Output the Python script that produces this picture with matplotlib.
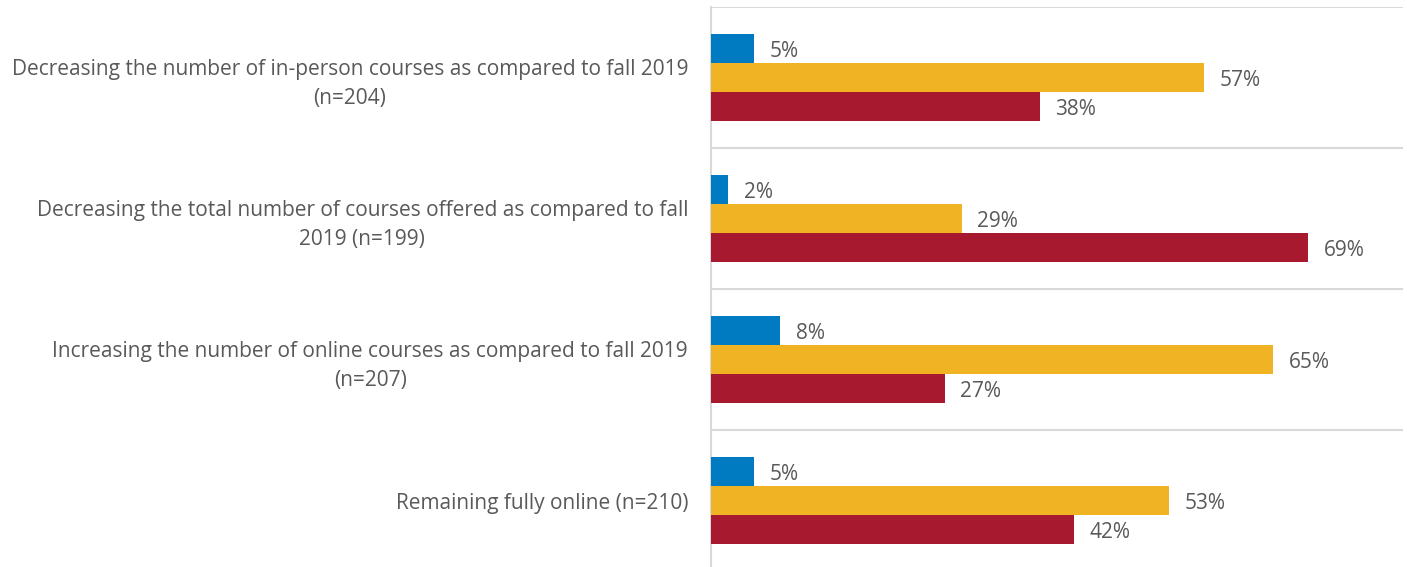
import numpy as np
import matplotlib.pyplot as plt

### DATOS
### ------------------

categories = [
    "Decreasing the number of in-person courses as compared to fall 2019\n(n=204)",
    "Decreasing the total number of courses offered as compared to fall\n2019 (n=199)",
    "Increasing the number of online courses as compared to fall 2019\n(n=207)",
    "Remaining fully online (n=210)",
]
blue_vals = [5, 2, 8, 5]
yellow_vals = [57, 29, 65, 53]
red_vals = [38, 69, 27, 42]

colors = ['#007AC0', '#F0B323', '#A6192E']
text_color = '#595959'
grid_color = '#D9D9D9'

plt.rcParams['font.family'] = ['Open Sans', 'DejaVu Sans']

### GRAFICA
### ------------------

fig = plt.figure(figsize=(14.07, 5.67), dpi=100)
ax = fig.add_axes([711 / 1407, 1 - 571 / 567, (1403 - 711) / 1407, 564 / 567])

y = np.arange(len(categories))
h = 0.2057
series = [blue_vals, yellow_vals, red_vals]
offsets = [-h, 0, h]

for vals, off, col in zip(series, offsets, colors):
    bars = ax.barh(y + off, vals, height=h, color=col, zorder=3)
    for b, v in zip(bars, vals):
        # etiqueta un poco por debajo del centro de la barra, como en el original
        ax.text(b.get_width() + 1.8, b.get_y() + b.get_height() / 2 + 0.02, f"{v}%",
                va='center', ha='left', fontsize=15, color=text_color)

ax.set_xlim(0, 80)
ax.set_ylim(len(categories) - 0.5, -0.5)

ax.set_yticks(y)
ax.set_yticklabels(categories, fontsize=15, color=text_color,
                   multialignment='center', linespacing=1.5)
ax.set_yticks(np.arange(len(categories) + 1) - 0.5, minor=True)
ax.tick_params(axis='y', which='both', length=0, pad=16.5)
ax.set_xticks([])
ax.grid(axis='y', which='minor', color=grid_color, linewidth=1.5, zorder=0)

for s in ['top', 'right', 'bottom']:
    ax.spines[s].set_visible(False)
ax.spines['left'].set_color(grid_color)
ax.spines['left'].set_linewidth(1.5)

fig.savefig('out.png', dpi=100)
